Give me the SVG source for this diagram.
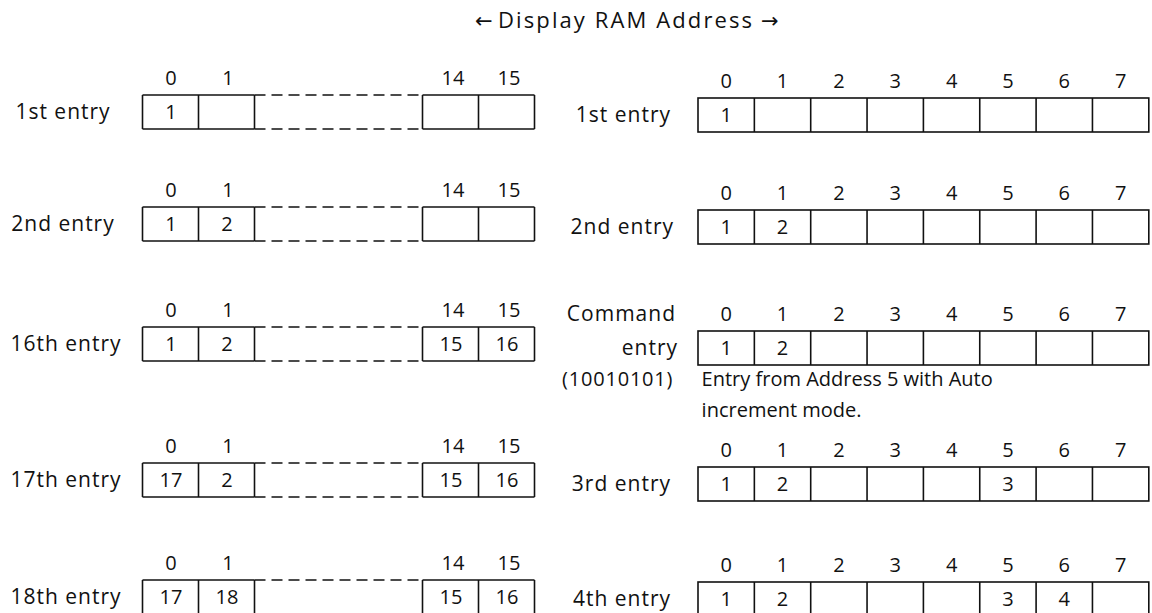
<svg xmlns="http://www.w3.org/2000/svg" width="1152" height="613" viewBox="0 0 1152 613">
<style>
text{font-family:"Open Sans","Liberation Sans",sans-serif;font-size:20px;fill:#111}
.lbl{font-size:21px;letter-spacing:1px}
.ttl{font-size:22px}
.arw{font-family:"DejaVu Sans",sans-serif;font-size:21px}
.c{text-anchor:middle}
.r{text-anchor:end}
.box{fill:none;stroke:#111;stroke-width:1.6}
.ln{stroke:#111;stroke-width:1.6}
.dash{stroke:#111;stroke-width:1.6;stroke-dasharray:11 6}
</style>
<defs>
<g id="leftGrid">
<line class="ln" x1="142.5" y1="0" x2="254.5" y2="0"/>
<line class="ln" x1="142.5" y1="34" x2="254.5" y2="34"/>
<line class="ln" x1="422.5" y1="0" x2="534.5" y2="0"/>
<line class="ln" x1="422.5" y1="34" x2="534.5" y2="34"/>
<line class="dash" x1="254.5" y1="0" x2="422.5" y2="0"/>
<line class="dash" x1="254.5" y1="34" x2="422.5" y2="34"/>
<line class="ln" x1="142.5" y1="0" x2="142.5" y2="34"/>
<line class="ln" x1="198.5" y1="0" x2="198.5" y2="34"/>
<line class="ln" x1="254.5" y1="0" x2="254.5" y2="34"/>
<line class="ln" x1="422.5" y1="0" x2="422.5" y2="34"/>
<line class="ln" x1="478.5" y1="0" x2="478.5" y2="34"/>
<line class="ln" x1="534.5" y1="0" x2="534.5" y2="34"/>
<text class="c" x="171" y="-10">0</text>
<text class="c" x="228" y="-10">1</text>
<text class="c" x="453" y="-10">14</text>
<text class="c" x="509" y="-10">15</text>
</g>
<g id="rightGrid">
<rect class="box" x="698" y="0" width="450.8" height="34"/>
<line class="ln" x1="754.35" y1="0" x2="754.35" y2="34"/>
<line class="ln" x1="810.7" y1="0" x2="810.7" y2="34"/>
<line class="ln" x1="867.05" y1="0" x2="867.05" y2="34"/>
<line class="ln" x1="923.4" y1="0" x2="923.4" y2="34"/>
<line class="ln" x1="979.75" y1="0" x2="979.75" y2="34"/>
<line class="ln" x1="1036.1" y1="0" x2="1036.1" y2="34"/>
<line class="ln" x1="1092.45" y1="0" x2="1092.45" y2="34"/>
<text class="c" x="726.2" y="-10">0</text>
<text class="c" x="782.5" y="-10">1</text>
<text class="c" x="838.9" y="-10">2</text>
<text class="c" x="895.2" y="-10">3</text>
<text class="c" x="951.6" y="-10">4</text>
<text class="c" x="1007.9" y="-10">5</text>
<text class="c" x="1064.3" y="-10">6</text>
<text class="c" x="1120.6" y="-10">7</text>
</g>
</defs>

<g id="title">
<text class="arw" x="475" y="28">←</text>
<text class="ttl" x="498" y="28" textLength="254" lengthAdjust="spacing">Display RAM Address</text>
<text class="arw" x="761" y="28">→</text>
</g>

<g id="left-1st">
<text class="lbl c" x="63" y="119">1st entry</text>
<use href="#leftGrid" y="95"/>
<text class="c" x="171" y="119">1</text>
</g>
<g id="left-2nd">
<text class="lbl c" x="63" y="231">2nd entry</text>
<use href="#leftGrid" y="207"/>
<text class="c" x="171" y="231">1</text>
<text class="c" x="227" y="231">2</text>
</g>
<g id="left-16th">
<text class="lbl c" x="66" y="351">16th entry</text>
<use href="#leftGrid" y="327"/>
<text class="c" x="171" y="351">1</text>
<text class="c" x="227" y="351">2</text>
<text class="c" x="451" y="351">15</text>
<text class="c" x="507" y="351">16</text>
</g>
<g id="left-17th">
<text class="lbl c" x="66" y="487">17th entry</text>
<use href="#leftGrid" y="463"/>
<text class="c" x="171" y="487">17</text>
<text class="c" x="227" y="487">2</text>
<text class="c" x="451" y="487">15</text>
<text class="c" x="507" y="487">16</text>
</g>
<g id="left-18th">
<text class="lbl c" x="66" y="604">18th entry</text>
<use href="#leftGrid" y="580"/>
<text class="c" x="171" y="604">17</text>
<text class="c" x="227" y="604">18</text>
<text class="c" x="451" y="604">15</text>
<text class="c" x="507" y="604">16</text>
</g>

<g id="right-1st">
<text class="lbl r" x="671" y="122">1st entry</text>
<use href="#rightGrid" y="98"/>
<text class="c" x="726.2" y="122">1</text>
</g>
<g id="right-2nd">
<text class="lbl r" x="674" y="234">2nd entry</text>
<use href="#rightGrid" y="210"/>
<text class="c" x="726.2" y="234">1</text>
<text class="c" x="782.5" y="234">2</text>
</g>
<g id="right-command">
<text class="lbl r" x="676" y="321">Command</text>
<text class="lbl r" x="678" y="355">entry</text>
<use href="#rightGrid" y="331"/>
<text class="c" x="726.2" y="355">1</text>
<text class="c" x="782.5" y="355">2</text>
<text x="562" y="386" style="letter-spacing:0.8px">(10010101)</text>
<text x="701.6" y="386">Entry from Address 5 with Auto</text>
<text x="701.6" y="417">increment mode.</text>
</g>
<g id="right-3rd">
<text class="lbl r" x="671" y="491">3rd entry</text>
<use href="#rightGrid" y="467"/>
<text class="c" x="726.2" y="491">1</text>
<text class="c" x="782.5" y="491">2</text>
<text class="c" x="1007.9" y="491">3</text>
</g>
<g id="right-4th">
<text class="lbl r" x="671" y="606">4th entry</text>
<use href="#rightGrid" y="582"/>
<text class="c" x="726.2" y="606">1</text>
<text class="c" x="782.5" y="606">2</text>
<text class="c" x="1007.9" y="606">3</text>
<text class="c" x="1064.3" y="606">4</text>
</g>
</svg>
